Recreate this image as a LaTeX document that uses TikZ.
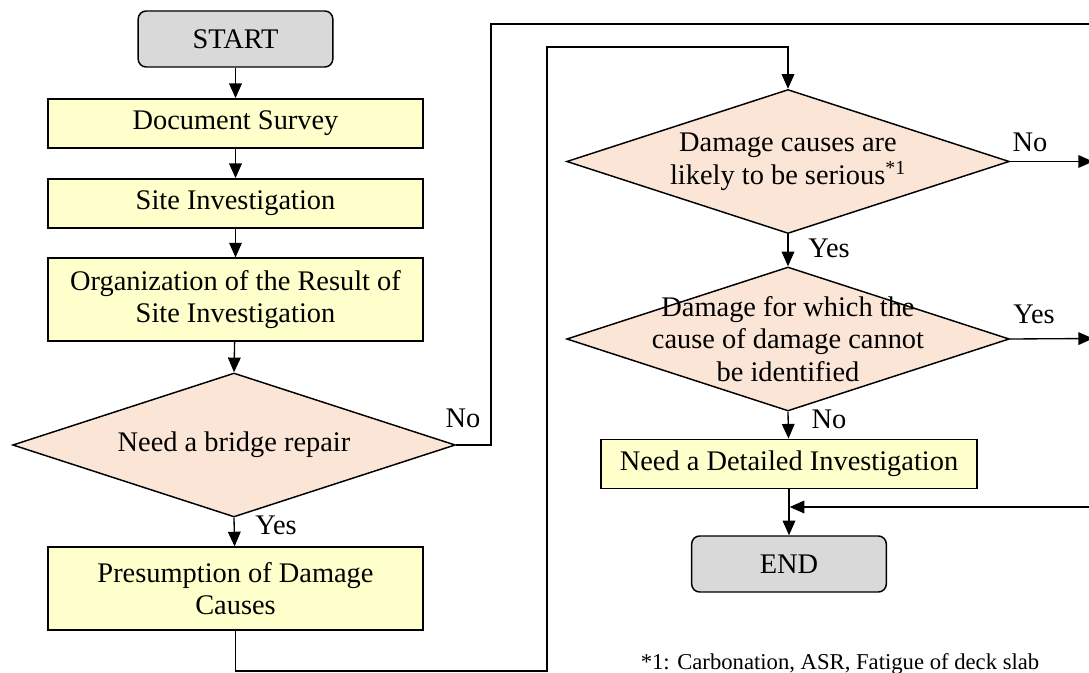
\documentclass[tikz,border=0pt]{standalone}
\usepackage{fontspec}
\setmainfont{Liberation Serif}
\usetikzlibrary{shapes.geometric}
\usetikzlibrary{arrows.meta}
\usepackage{xcolor}
\definecolor{boxyellow}{RGB}{255,255,204}
\definecolor{decpeach}{RGB}{251,229,214}
\definecolor{termgray}{RGB}{217,217,217}

\begin{document}
\begin{tikzpicture}[x=0.75pt,y=-0.75pt,
  font=\fontsize{21.3}{24.5}\selectfont,
  terminal/.style={draw,line width=1.1pt,fill=termgray,rounded corners=6pt,minimum width=146pt,minimum height=42pt,inner sep=0pt},
  process/.style={draw,line width=1.1pt,fill=boxyellow,minimum width=281pt,minimum height=37pt,align=center,inner sep=0pt},
  decision/.style={draw,line width=1.1pt,fill=decpeach,diamond,minimum width=332pt,minimum height=108pt,inner sep=0pt},
  flow/.style={line width=1pt,-{Triangle[length=11pt,width=9.5pt]}},
  plain/.style={line width=1pt},
  answer/.style={inner sep=0pt}]
\useasboundingbox (0,0) rectangle (1089,673);

\node[terminal] (start) at (235.5,39) {START};
\node[process] (survey) at (235.5,123.5) {Document Survey};
\node[process] (site) at (235.5,203.5) {Site Investigation};
\node[process,minimum height=62pt] (organize) at (235.5,299.5) {Organization of the Result of\\Site Investigation};
\node[decision,label={center:Need a bridge repair}] (repair) at (234,445) {};
\node[process,minimum height=62pt] (presume) at (235.5,588.5) {Presumption of Damage\\Causes};

\node[decision,label={[align=center]center:Damage causes are\\likely to be serious\textsuperscript{*1}}] (serious) at (788,161.5) {};
\node[decision,label={[align=center]center:Damage for which the\\cause of damage cannot\\be identified}] (unknown) at (788,339) {};
\node[process,minimum width=282pt] (detailed) at (789,464) {Need a Detailed Investigation};
\node[terminal] (finish) at (789,564) {END};

\coordinate (upturn) at (491,24);
\coordinate (outtop) at (1100,24);
\coordinate (lowrun) at (547,671);
\coordinate (highrun) at (547,47);
\coordinate (outno) at (1093,161.5);
\coordinate (outyes) at (1093,338.5);
\coordinate (backin) at (1100,507);

\draw[flow] (start) -- (survey);
\draw[flow] (survey) -- (site);
\draw[flow] (site) -- (organize);
\draw[flow] (organize) -- (repair.north);
\draw[flow] (repair.south) -- (presume);
\draw[plain] (repair.east) -| (upturn) -- (outtop);
\draw[flow] (presume.south) |- (lowrun) -- (highrun) -| (serious.north);
\draw[flow] (serious.east) -- (outno);
\draw[flow] (serious.south) -- (unknown.north);
\draw[flow] (unknown.east) -- (outyes);
\draw[flow] (unknown.south) -- (detailed);
\draw[flow] (detailed) -- (finish);
\draw[flow,shorten >=0.5pt] (backin) -- (backin -| finish);

\node[answer] (repairno) at (463,418) {No};
\node[answer] (repairyes) at (276,525) {Yes};
\node[answer] (seriousno) at (1030,142) {No};
\node[answer] (seriousyes) at (829,248) {Yes};
\node[answer] (unknownyes) at (1034,314) {Yes};
\node[answer] (unknownno) at (829,419) {No};

\node[anchor=base,font=\fontsize{17}{20}\selectfont] (footnote) at (840,669) {*1: Carbonation, ASR, Fatigue of deck slab};

\end{tikzpicture}
\end{document}
